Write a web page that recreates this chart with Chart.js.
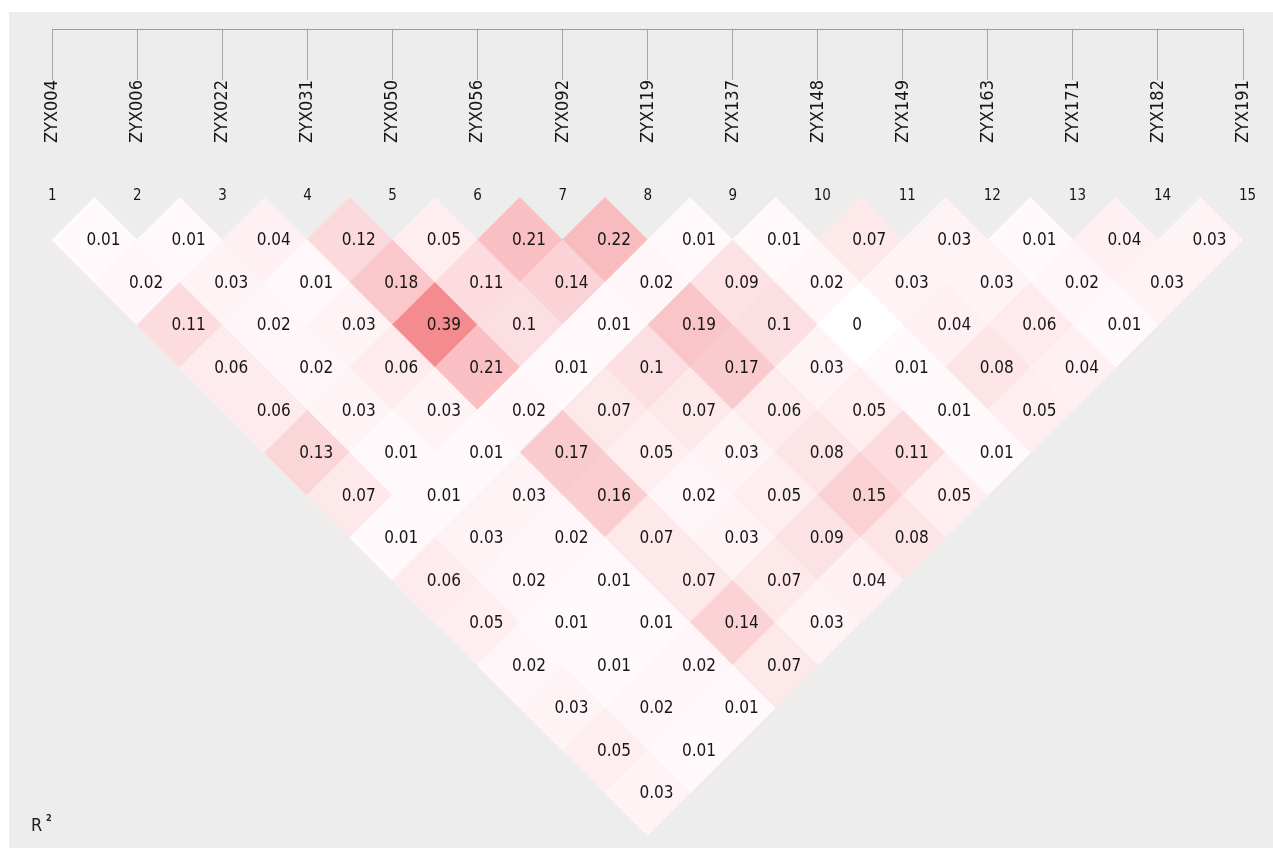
<!DOCTYPE html>
<html><head><meta charset="utf-8">
<script src="https://cdn.jsdelivr.net/npm/chart.js@4.4.0/dist/chart.umd.min.js"></script>
<style>
html,body{margin:0;padding:0;background:#fff;width:1273px;height:848px;overflow:hidden}
#bg{position:absolute;left:9px;top:12px;width:1264px;height:836px;background:#ededed}
#c{position:absolute;left:0;top:0}
</style></head><body>
<div id="bg"></div>
<canvas id="c" width="1273" height="848"></canvas>
<script>
// Marker names and numbers (tick labels)
const markerNames = ['ZYX004','ZYX006','ZYX022','ZYX031','ZYX050','ZYX056','ZYX092','ZYX119','ZYX137','ZYX148','ZYX149','ZYX163','ZYX171','ZYX182','ZYX191'];
const markerNumbers = ['1','2','3','4','5','6','7','8','9','10','11','12','13','14','15'];

// Pairwise r² values, one array per marker distance (lag)
const r2Lag1  = [0.01,0.01,0.04,0.12,0.05,0.21,0.22,0.01,0.01,0.07,0.03,0.01,0.04,0.03];
const r2Lag2  = [0.02,0.03,0.01,0.18,0.11,0.14,0.02,0.09,0.02,0.03,0.03,0.02,0.03];
const r2Lag3  = [0.11,0.02,0.03,0.39,0.1,0.01,0.19,0.1,0,0.04,0.06,0.01];
const r2Lag4  = [0.06,0.02,0.06,0.21,0.01,0.1,0.17,0.03,0.01,0.08,0.04];
const r2Lag5  = [0.06,0.03,0.03,0.02,0.07,0.07,0.06,0.05,0.01,0.05];
const r2Lag6  = [0.13,0.01,0.01,0.17,0.05,0.03,0.08,0.11,0.01];
const r2Lag7  = [0.07,0.01,0.03,0.16,0.02,0.05,0.15,0.05];
const r2Lag8  = [0.01,0.03,0.02,0.07,0.03,0.09,0.08];
const r2Lag9  = [0.06,0.02,0.01,0.07,0.07,0.04];
const r2Lag10 = [0.05,0.01,0.01,0.14,0.03];
const r2Lag11 = [0.02,0.01,0.02,0.07];
const r2Lag12 = [0.03,0.02,0.01];
const r2Lag13 = [0.05,0.01];
const r2Lag14 = [0.03];
const r2ByLag = [r2Lag1,r2Lag2,r2Lag3,r2Lag4,r2Lag5,r2Lag6,r2Lag7,r2Lag8,r2Lag9,r2Lag10,r2Lag11,r2Lag12,r2Lag13,r2Lag14];

// Build the LD cells: x = midpoint of the two markers, y = distance
const cells = [];
r2ByLag.forEach((row, li) => {
  const lag = li + 1;
  row.forEach((v, i) => {
    const a = i + 1, b = i + 1 + lag;
    cells.push({x: (a + b) / 2, y: lag, v: v});
  });
});

function cellColor(v) {
  if (v <= 0) return 'rgb(255,255,255)';
  const r = Math.round(255 - 30 * v);
  const g = Math.round(252 - 290 * v);
  const b = Math.round(254 - 285 * v);
  return 'rgb(' + r + ',' + g + ',' + b + ')';
}

const condFam = "'DejaVu Sans Condensed', 'DejaVu Sans', sans-serif";

const cellLabels = {
  id: 'cellLabels',
  afterDatasetsDraw(chart) {
    const meta = chart.getDatasetMeta(0);
    const data = chart.data.datasets[0].data;
    const ctx = chart.ctx;
    ctx.save();
    ctx.font = "17px " + condFam;
    ctx.fillStyle = '#161616';
    ctx.textAlign = 'left';
    ctx.textBaseline = 'middle';
    meta.data.forEach((pt, k) => {
      ctx.fillText(String(data[k].v), pt.x - 8, pt.y + 1);
    });
    ctx.restore();
  }
};

const r2Label = {
  id: 'r2Label',
  afterDraw(chart) {
    const ctx = chart.ctx;
    ctx.save();
    ctx.fillStyle = '#222';
    ctx.textBaseline = 'alphabetic';
    ctx.font = "18px " + condFam;
    ctx.fillText('R', 31, 831);
    ctx.font = "bold 9px " + condFam;
    ctx.fillText('2', 46, 821);
    ctx.restore();
  }
};

const fixTicks = scale => { scale.ticks = markerNumbers.map((_, i) => ({value: i + 1})); };

new Chart(document.getElementById('c'), {
  type: 'scatter',
  data: {
    datasets: [{
      data: cells,
      pointStyle: 'rectRot',
      pointRadius: ctx => {
        const s = ctx.chart.scales.x;
        return s ? (s.getPixelForValue(2) - s.getPixelForValue(1)) / 2 : 42;
      },
      pointHoverRadius: ctx => {
        const s = ctx.chart.scales.x;
        return s ? (s.getPixelForValue(2) - s.getPixelForValue(1)) / 2 : 42;
      },
      backgroundColor: ctx => cellColor(ctx.raw ? ctx.raw.v : 0),
      borderColor: ctx => cellColor(ctx.raw ? ctx.raw.v : 0),
      borderWidth: 1,
      clip: false
    }]
  },
  options: {
    responsive: false,
    animation: false,
    devicePixelRatio: 1,
    events: [],
    layout: {padding: {left: 52, right: 30, top: 27, bottom: 0}},
    plugins: {legend: {display: false}, tooltip: {enabled: false}},
    scales: {
      xLine: {
        type: 'linear', position: 'top', weight: 3, min: 1, max: 15,
        afterBuildTicks: fixTicks,
        afterFit: s => { s.height = 2; },
        ticks: {display: false},
        border: {display: true, color: '#9c9c9c', width: 1},
        grid: {display: true, drawOnChartArea: false, drawTicks: true, tickLength: -51, color: '#a8a8a8', lineWidth: 1}
      },
      xName: {
        type: 'linear', position: 'top', weight: 2, min: 1, max: 15,
        afterBuildTicks: fixTicks,
        afterFit: s => { s.height = 121; },
        border: {display: false},
        grid: {display: false, drawTicks: false},
        ticks: {
          autoSkip: false, minRotation: 90, maxRotation: 90, padding: 7, labelOffset: 22,
          color: '#161616', font: {size: 18, family: condFam},
          callback: (v, i) => markerNames[i]
        }
      },
      x: {
        type: 'linear', position: 'top', weight: 1, min: 1, max: 15,
        afterBuildTicks: fixTicks,
        afterFit: s => { s.height = 55; },
        border: {display: false},
        grid: {display: false, drawTicks: false},
        ticks: {
          autoSkip: false, maxRotation: 0, padding: 0, align: 'start', labelOffset: -4,
          color: '#161616', font: {size: 15, family: condFam},
          callback: (v, i) => markerNumbers[i]
        }
      },
      y: {
        type: 'linear', display: false, reverse: true,
        min: 0.17716, max: 15.29387
      }
    }
  },
  plugins: [cellLabels, r2Label]
});
</script>
</body></html>
